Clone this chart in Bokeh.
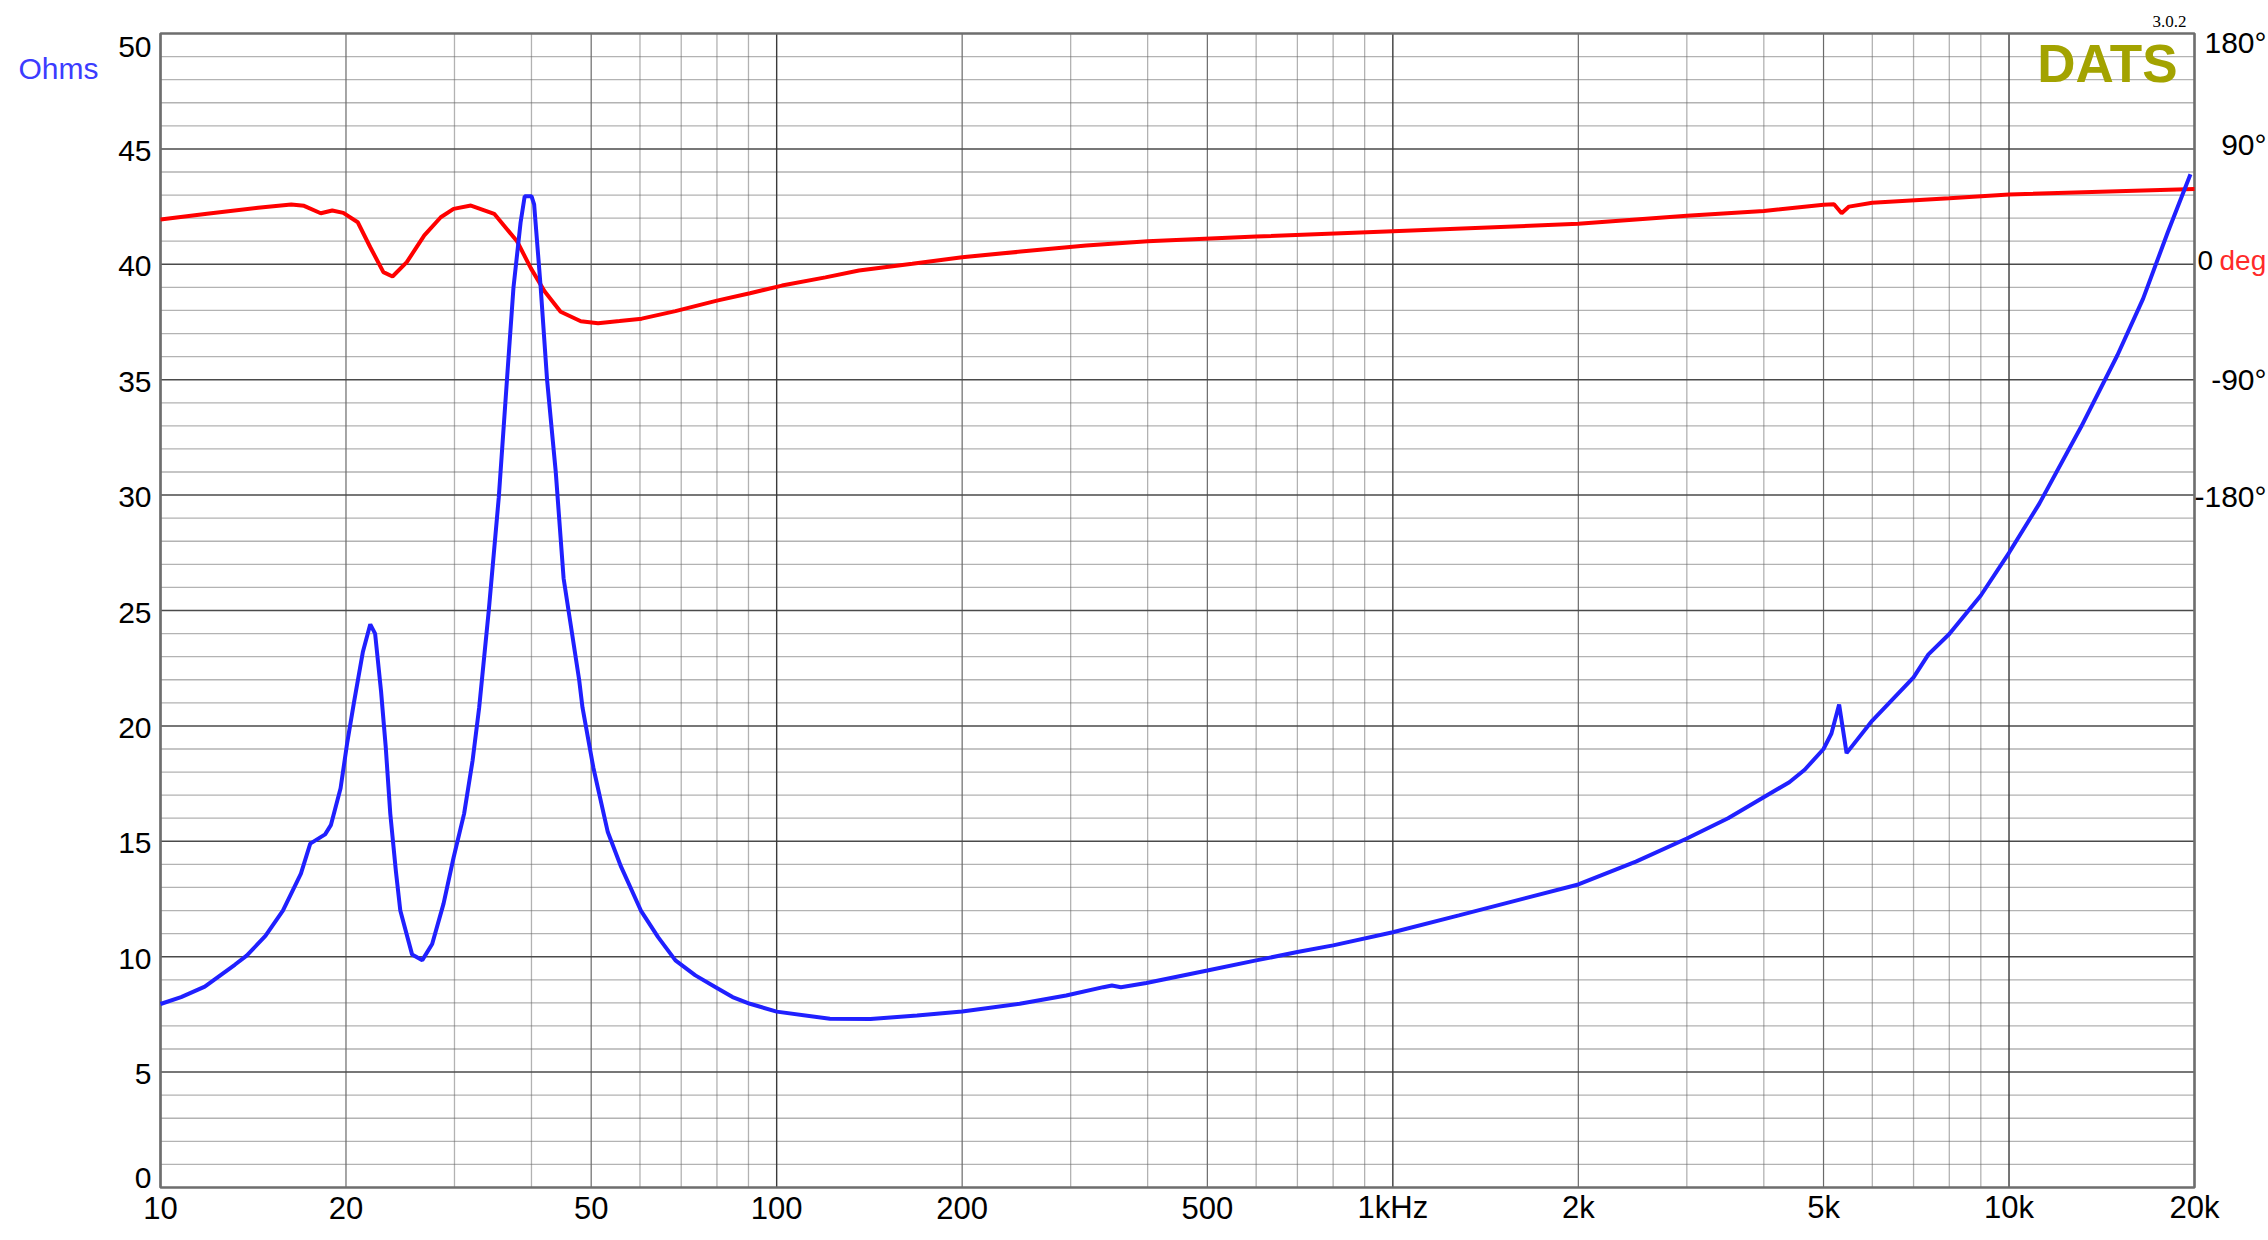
from bokeh.plotting import figure
from bokeh.models import Range1d
from bokeh.core.properties import value
from bokeh.embed import file_html
from bokeh.resources import INLINE

# ---------------- data ----------------
freq_imp = [10, 10.8, 11.8, 13.2, 13.8, 14.8, 15.8, 16.9, 17.5, 18.5, 18.9, 19.6,
            20.1, 20.6, 21.3, 21.9, 22.3, 22.8, 23.2, 23.6, 24.1, 24.5, 25.6, 26.6,
            27.6, 28.8, 29.9, 31.1, 32.1, 32.9, 34.1, 35.4, 36.5, 37.4, 38.4, 39.0,
            40.0, 40.4, 41.4, 42.4, 43.8, 45.1, 47.8, 48.4, 50.4, 53.2, 55.9, 60.2, 64.2,
            68.5, 73.8, 79.6, 84.8, 90.5, 100, 122, 142, 169, 200, 248, 295, 339,
            350, 362, 398, 500, 600, 700, 800, 1000, 1280, 2000, 2480, 3000, 3500,
            4400, 4660, 5000, 5150, 5300, 5450, 6000, 7000, 7400, 8000, 9000, 10000,
            11200, 13100, 15000, 16500, 18100, 19700]
imp_ohm = [7.95, 8.25, 8.7, 9.65, 10.05, 10.9, 12.0, 13.6, 14.9, 15.3, 15.7, 17.3,
           19.3, 21.0, 23.2, 24.4, 24.0, 21.5, 19.1, 16.2, 13.7, 12.0, 10.1, 9.85,
           10.55, 12.3, 14.3, 16.2, 18.5, 20.8, 25.0, 29.9, 35.0, 39.0, 41.8, 42.95,
           42.95, 42.6, 39.0, 35.0, 31.0, 26.4, 22.0, 20.8, 18.2, 15.4, 13.9, 12.0, 10.85,
           9.84, 9.19, 8.68, 8.25, 7.96, 7.62, 7.31, 7.3, 7.45, 7.63, 7.96, 8.32, 8.68,
           8.75, 8.68, 8.86, 9.40, 9.84, 10.2, 10.49, 11.06, 11.79, 13.13, 14.12, 15.12, 16.0,
           17.56, 18.1, 19.0, 19.67, 20.93, 18.82, 20.23, 22.1, 23.1, 23.98, 25.65, 27.5,
           29.63, 32.97, 36.07, 38.5, 41.39, 43.9]

freq_ph = [10, 11.9, 14.4, 16.3, 17.1, 18.2, 19.0, 19.8, 20.9, 21.9, 23.0, 23.8,
           25.1, 26.8, 28.5, 29.9, 31.9, 34.8, 37.9, 39.9, 42.0, 44.6, 48.1, 51.3,
           55.6, 60.4, 68.5, 80, 90.5, 102, 120, 136, 166, 200, 249, 318, 400, 600,
           1000, 2000, 3000, 4000, 5000, 5200, 5350, 5500, 6000, 8000, 10000, 20000]
phase_deg = [35, 39.4, 44.1, 46.6, 45.6, 39.8, 42, 40.1, 32.8, 13.3, -6.1, -9.5,
             1.7, 22.5, 36.7, 43.2, 45.8, 39.4, 18, -3, -21, -37, -44.4, -45.9,
             -44.3, -42.4, -36.5, -28.3, -22.6, -16.6, -10.2, -4.9, 0.4, 5.5, 9.9, 14.6,
             17.9, 21.6, 25.8, 31.6, 37.8, 41.6, 46.4, 46.8, 39.8, 45, 48, 51.6, 54.5, 58.8]

x_ticks = [10, 20, 50, 100, 200, 500, 1000, 2000, 5000, 10000, 20000]
x_tick_labels = ["10", "20", "50", "100", "200", "500", "1kHz", "2k", "5k", "10k", "20k"]
y_ticks = [0, 5, 10, 15, 20, 25, 30, 35, 40, 45, 50]
y_tick_labels = ["0", "5", "10", "15", "20", "25", "30", "35", "40", "45", "50"]
phase_ticks = [180, 90, -90, -180]
phase_tick_labels = ["180°", "90°", "-90°", "-180°"]
phase_zero = [0]

# ---------------- layout constants (pixels) ----------------
W, H = 2268, 1240
FL, FR, FT, FB = 160, 2194, 33, 1187   # plotting box edges
X0, X1 = 10.0, 20000.0
Y0, Y1 = 0.0, 50.0
PH0 = -720.0  # phase at Y0 ; phase at Y1 is 180

dec = (X1 / X0) ** (1.0 / (FR - FL))
x_start = X0 * dec ** (-FL)
x_end = X0 * dec ** (W - FL)
ppu = (FB - FT) / (Y1 - Y0)
y_start = Y0 - (H - FB) / ppu
y_end = Y1 + FT / ppu
deg_per_unit = (180.0 - PH0) / (Y1 - Y0)
ph_start = PH0 + (y_start - Y0) * deg_per_unit
ph_end = PH0 + (y_end - Y0) * deg_per_unit

p = figure(width=W, height=H, x_axis_type="log", x_axis_location=None, y_axis_location=None,
           x_range=Range1d(x_start, x_end), y_range=Range1d(y_start, y_end),
           output_backend="svg", toolbar_location=None, min_border=0)
p.extra_y_ranges = {"phase": Range1d(ph_start, ph_end)}
p.background_fill_color = "white"
p.border_fill_color = "white"
p.outline_line_color = None
p.grid.visible = False

# ---------------- grid (bounded to the plotting box) ----------------
decades = [10, 100, 1000, 10000]
x_major = decades
x_mid = [m * d for d in decades for m in (2, 5) if m * d <= X1]
x_minor = [m * d for d in decades for m in (3, 4, 6, 7, 8, 9) if m * d <= X1]
y_major = list(range(5, 50, 5))
y_minor = [v for v in range(1, 50) if v % 5 != 0]


def vlines(xs, **kw):
    p.segment(x0=xs, y0=[Y0] * len(xs), x1=xs, y1=[Y1] * len(xs), **kw)


def hlines(ys, **kw):
    p.segment(x0=[X0] * len(ys), y0=ys, x1=[X1] * len(ys), y1=ys, **kw)


hlines(y_minor, line_color="#666666", line_width=1.3, line_dash="1 1")
vlines(x_minor, line_color="#666666", line_width=1.3, line_dash="1 1")
vlines(x_mid, line_color="#6a6a6a", line_width=1.2)
hlines(y_major, line_color="#4a4a4a", line_width=1.5)
vlines(x_major, line_color="#3a3a3a", line_width=1.4)

# plot box
p.quad(left=[X0], right=[X1], bottom=[Y0], top=[Y1], fill_color=None,
       line_color="#6e6e6e", line_width=2.6)

# ---------------- curves ----------------
p.line(freq_ph, phase_deg, y_range_name="phase", line_color="#ff0000", line_width=4)
p.line(freq_imp, imp_ohm, line_color="#2020ff", line_width=4)

FONT = value("Liberation Sans")
# (texts are anchored on the vertical middle of their glyphs; offsets in pixels)

# bottom tick labels (frequency)
p.text(x=x_ticks, y=[Y0] * len(x_ticks), text=x_tick_labels, text_font=FONT,
       text_font_size="31px", text_color="black", text_align="center",
       text_baseline="alphabetic", y_offset=20)

# left tick labels (ohms); the end labels sit inside the box edges as in the reference
y_lab_off = [-9.5 if t == Y0 else (13.5 if t == Y1 else 2) for t in y_ticks]
p.text(x=[X0] * len(y_ticks), y=y_ticks, text=y_tick_labels, text_font=FONT,
       text_font_size="30px", text_color="black", text_align="right",
       text_baseline="alphabetic", x_offset=-9, y_offset=y_lab_off)

# right tick labels (phase), kept inside the page's right edge
ph_off = [9, -4.5, -0.5, 1]
p.text(x=[X1] * len(phase_ticks), y=phase_ticks, text=phase_tick_labels,
       y_range_name="phase", text_font=FONT, text_font_size="30px", text_color="black",
       text_align="right", text_baseline="alphabetic", x_offset=72, y_offset=ph_off)
p.text(x=[X1], y=phase_zero, text=["0"], y_range_name="phase", text_font=FONT,
       text_font_size="28px", text_color="black", text_align="left",
       text_baseline="alphabetic", x_offset=3, y_offset=-4)
p.text(x=[X1], y=phase_zero, text=["deg"], y_range_name="phase", text_font=FONT,
       text_font_size="28px", text_color="#ff2a2a", text_align="left",
       text_baseline="alphabetic", x_offset=25, y_offset=-4)

# unit label, branding, version
p.text(x=[X0], y=[Y1], text=["Ohms"], text_font=FONT, text_font_size="30px",
       text_color="#3c3cff", text_align="left", text_baseline="alphabetic",
       x_offset=18 - FL, y_offset=35)
p.text(x=[X1], y=[Y1], text=["DATS"], text_font=FONT, text_font_size="53px",
       text_font_style="bold", text_color="#a3a300", text_align="right",
       text_baseline="alphabetic", x_offset=-17, y_offset=29.5)
p.text(x=[X1], y=[Y1], text=["3.0.2"], text_font=value("Liberation Serif"),
       text_font_size="17px", text_color="black", text_align="right",
       text_baseline="alphabetic", x_offset=-8, y_offset=-12)

open("out.html", "w").write(file_html(p, INLINE))
